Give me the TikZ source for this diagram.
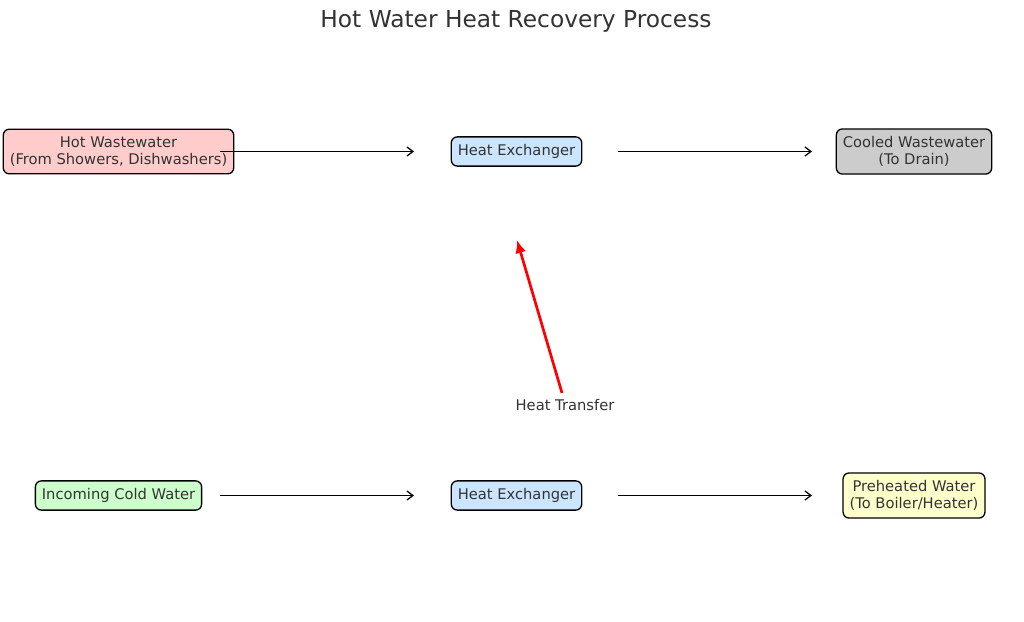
\documentclass[tikz,border=0pt]{standalone}
\usepackage{fontspec}
\setmainfont{DejaVu Sans}
\usetikzlibrary{arrows.meta}
\definecolor{txt}{HTML}{333333}
\definecolor{cpink}{HTML}{FFCCCC}
\definecolor{cblue}{HTML}{CCE5FF}
\definecolor{cgray}{HTML}{CCCCCC}
\definecolor{cgreen}{HTML}{CCFFCC}
\definecolor{cyellow}{HTML}{FFFFCC}
\tikzset{
  box/.style={draw=black, line width=1.3pt, rounded corners=6pt, text=txt,
    font=\fontsize{14.7}{17}\selectfont, align=center, inner xsep=6.5pt, inner ysep=7.5pt},
  flow/.style={draw=black, line width=1.3pt, -{Straight Barb[length=6pt,width=9pt,line width=1.3pt]}},
  heat/.style={draw=red, line width=2.7pt, -{Latex[length=13pt,width=11pt]}},
}
\begin{document}
\begin{tikzpicture}[x=1pt,y=-1pt]
\useasboundingbox (0,0) rectangle (1024,621);
\node[text=txt, font=\fontsize{23.3}{26}\selectfont] (title) at (516,21) {Hot Water Heat Recovery Process};
\node[box, fill=cpink] (hot) at (118.5,151.5) {Hot Wastewater\\(From Showers, Dishwashers)};
\node[box, fill=cblue] (hx1) at (516.5,151.5) {Heat Exchanger};
\node[box, fill=cgray] (cool) at (914,151.5) {Cooled Wastewater\\(To Drain)};
\node[box, fill=cgreen] (cold) at (118.5,495.5) {Incoming Cold Water};
\node[box, fill=cblue] (hx2) at (516.5,495.5) {Heat Exchanger};
\node[box, fill=cyellow] (pre) at (914,495.5) {Preheated Water\\(To Boiler/Heater)};
\node[text=txt, font=\fontsize{14.7}{17}\selectfont] (ht) at (565,405) {Heat Transfer};
\coordinate (a1s) at (220,151.5);
\coordinate (a1e) at (414,151.5);
\coordinate (a2s) at (618,151.5);
\coordinate (a2e) at (812,151.5);
\coordinate (b1s) at (220,495.5);
\coordinate (b1e) at (414,495.5);
\coordinate (b2s) at (618,495.5);
\coordinate (b2e) at (812,495.5);
\coordinate (hs) at (562,393);
\coordinate (he) at (517,240);
\draw[flow] (a1s) -- (a1e);
\draw[flow] (a2s) -- (a2e);
\draw[flow] (b1s) -- (b1e);
\draw[flow] (b2s) -- (b2e);
\draw[heat] (hs) -- (he);
\end{tikzpicture}
\end{document}
